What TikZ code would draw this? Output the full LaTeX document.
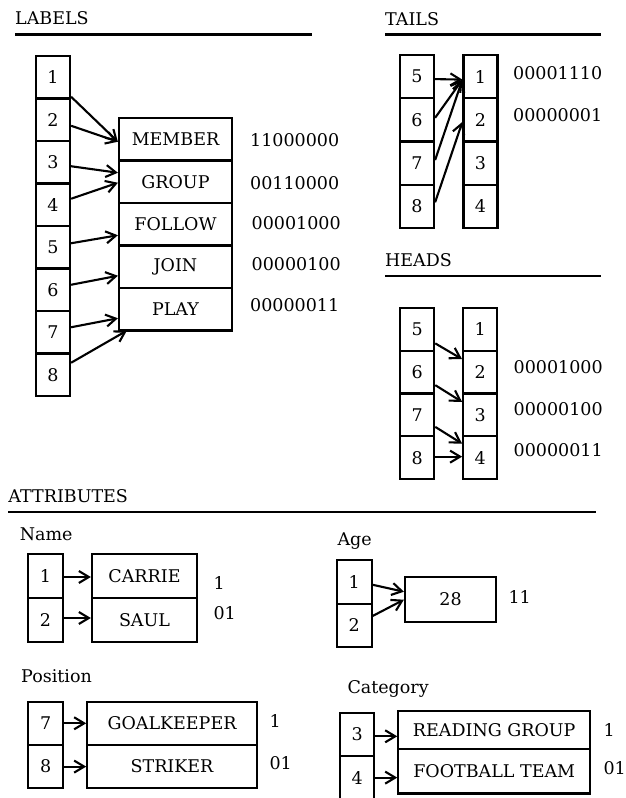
\documentclass[tikz,border=0pt]{standalone}
\usepackage{fontspec}
\setmainfont{DejaVu Serif}
\usetikzlibrary{arrows.meta}
\begin{document}
\begin{tikzpicture}[x=1pt,y=-1pt,
  every node/.style={font=\fontsize{17.5}{20}\selectfont},
  cell/.style={draw, line width=2.2pt, inner sep=0pt, minimum width=#1},
  cell/.default=34pt,
  txt/.style={anchor=base west, inner sep=0pt},
  rule/.style={line width=2.2pt},
  arr/.style={line width=2.1pt, -{Straight Barb[length=10pt,width=12pt,line width=2.1pt]}}]
\clip (0,0) rectangle (626,798);
\fill[white] (0,0) rectangle (626,798);

% ---------- LABELS ----------
\node[txt] (tLabels) at (15,24) {LABELS};
\coordinate (lab0) at (15,34.5); \coordinate (lab1) at (311.5,34.5);
\draw[rule] (lab0) -- (lab1);
\foreach \i in {1,...,8}{
  \node[cell, minimum height=42.5pt] (L\i) at (53,{77.25+42.5*(\i-1)}) {\i};
}
\foreach \n/\t [count=\k] in {lm/MEMBER,lg/GROUP,lf/FOLLOW,lj/JOIN,lp/PLAY}{
  \node[cell=113pt, minimum height=42.5pt] (\n) at (175.5,{139.25+42.5*(\k-1)}) {\t};
}
\node[txt] (bm) at (250,146.7) {11000000};
\node[txt] (bg) at (250,189.3) {00110000};
\node[txt] (bf) at (251.5,229.3) {00001000};
\node[txt] (bj) at (251.5,270) {00000100};
\node[txt] (bp) at (250,311.7) {00000011};
\draw[arr] ([yshift=-19.5pt]L1.east) -- ([yshift=-2.5pt]lm.west);
\draw[arr] ([yshift=-6pt]L2.east) -- ([yshift=-2.5pt]lm.west);
\draw[arr] ([yshift=-4pt]L3.east) -- ([yshift=9pt]lg.west);
\draw[arr] ([yshift=6pt]L4.east) -- ([yshift=-1pt]lg.west);
\draw[arr] ([yshift=4pt]L5.east) -- ([yshift=-11pt]lf.west);
\draw[arr] ([yshift=5pt]L6.east) -- ([yshift=-9pt]lj.west);
\draw[arr] ([yshift=5pt]L7.east) -- ([yshift=-9pt]lp.west);
\draw[arr] ([yshift=12pt]L8.east) -- ([xshift=9pt,yshift=1pt]lp.south west);

% ---------- TAILS ----------
\node[txt] (tTails) at (385,25) {TAILS};
\coordinate (tl0) at (385,34.5); \coordinate (tl1) at (600.5,34.5);
\draw[rule] (tl0) -- (tl1);
\foreach \i [count=\k] in {5,6,7,8}{
  \node[cell, minimum height=43.25pt] (T\i) at (417,{76.6+43.25*(\k-1)}) {\i};
}
\foreach \i in {1,...,4}{
  \node[cell, minimum height=43.25pt] (TR\i) at (480.5,{76.6+43.25*(\i-1)}) {\i};
}
\node[txt] (bt1) at (513,79.3) {00001110};
\node[txt] (bt2) at (513,121.7) {00000001};
\draw[arr] ([yshift=-2.5pt]T5.east) -- ([yshift=-3pt]TR1.west);
\draw[arr] ([yshift=2pt]T6.east) -- ([yshift=-3pt]TR1.west);
\draw[arr] ([yshift=3pt]T7.east) -- ([yshift=-3pt]TR1.west);
\draw[arr] ([yshift=4pt]T8.east) -- ([yshift=-2pt]TR2.west);

% ---------- HEADS ----------
\node[txt] (tHeads) at (385,266.7) {HEADS};
\coordinate (hd0) at (385,276); \coordinate (hd1) at (600.5,276);
\draw[rule] (hd0) -- (hd1);
\foreach \i [count=\k] in {5,6,7,8}{
  \node[cell, minimum height=42.75pt] (H\i) at (417.2,{329.4+42.75*(\k-1)}) {\i};
}
\foreach \i in {1,...,4}{
  \node[cell, minimum height=42.75pt] (HR\i) at (480.2,{329.4+42.75*(\i-1)}) {\i};
}
\node[txt] (bh2) at (513.5,373.3) {00001000};
\node[txt] (bh3) at (513.5,415) {00000100};
\node[txt] (bh4) at (513.5,456.7) {00000011};
\draw[arr] ([yshift=-14pt]H5.east) -- ([yshift=13pt]HR2.west);
\draw[arr] ([yshift=-13pt]H6.east) -- ([yshift=13pt]HR3.west);
\draw[arr] ([yshift=-12pt]H7.east) -- ([yshift=14pt]HR4.west);
\draw[arr] ([yshift=1pt]H8.east) -- ([yshift=1pt]HR4.west);

% ---------- ATTRIBUTES ----------
\node[txt] (tAttr) at (8.3,502.7) {ATTRIBUTES};
\coordinate (at0) at (8.3,512.3); \coordinate (at1) at (596,512.3);
\draw[rule] (at0) -- (at1);

% Name
\node[txt] (tName) at (19.7,540.7) {Name};
\node[cell=35pt, minimum height=44pt] (N1) at (45.5,576) {1};
\node[cell=35pt, minimum height=44pt] (N2) at (45.5,620) {2};
\node[cell=105pt, minimum height=44pt] (NC) at (144.5,576) {CARRIE};
\node[cell=105pt, minimum height=44pt] (NS) at (144.5,620) {SAUL};
\node[txt] (bn1) at (213.3,589.3) {1};
\node[txt] (bn2) at (213.3,619.3) {01};
\draw[arr] ([yshift=-1pt]N1.east) -- ([yshift=-1pt]N1.east -| NC.west);
\draw[arr] ([yshift=2pt]N2.east) -- ([yshift=2pt]N2.east -| NS.west);

% Age
\node[txt] (tAge) at (337.3,545.3) {Age};
\node[cell=35pt, minimum height=43.6pt] (A1) at (354.2,581.8) {1};
\node[cell=35pt, minimum height=43.6pt] (A2) at (354.2,625.4) {2};
\node[cell=91pt, minimum height=45pt] (A28) at (450.5,599.2) {28};
\node[txt] (ba) at (508.3,603.3) {11};
\draw[arr] ([yshift=-3pt]A1.east) -- ([yshift=7.5pt]A28.west);
\draw[arr] ([yshift=9.5pt]A2.east) -- ([yshift=-0.5pt]A28.west);

% Position
\node[txt] (tPos) at (21,682.3) {Position};
\node[cell=35pt, minimum height=43.3pt] (P7) at (45.8,723.3) {7};
\node[cell=35pt, minimum height=43.3pt] (P8) at (45.8,766.6) {8};
\node[cell=169.4pt, minimum height=43.3pt] (PG) at (172,723.3) {GOALKEEPER};
\node[cell=169.4pt, minimum height=43.3pt] (PS) at (172,766.6) {STRIKER};
\node[txt] (bp1) at (269.3,727.7) {1};
\node[txt] (bp2) at (269.3,769.3) {01};
\draw[arr] (P7.east) -- (P7.east -| PG.west);
\draw[arr] (P8.east) -- (P8.east -| PS.west);

% Category
\node[txt] (tCat) at (347.3,693.3) {Category};
\node[cell=34.3pt, minimum height=43.3pt] (C3) at (357.2,734.3) {3};
\node[cell=34.3pt, minimum height=43.3pt] (C4) at (357.2,777.6) {4};
\node[cell=191.7pt, minimum height=38pt] (CR) at (494.2,730) {READING GROUP};
\node[cell=191.7pt, minimum height=44.5pt] (CF) at (494.2,771.25) {FOOTBALL TEAM};
\node[txt] (bc1) at (603.3,736.7) {1};
\node[txt] (bc2) at (603.3,774) {01};
\draw[arr] ([yshift=-2pt]C3.east) -- ([yshift=-2pt]C3.east -| CR.west);
\draw[arr] (C4.east) -- (C4.east -| CF.west);
\end{tikzpicture}
\end{document}
